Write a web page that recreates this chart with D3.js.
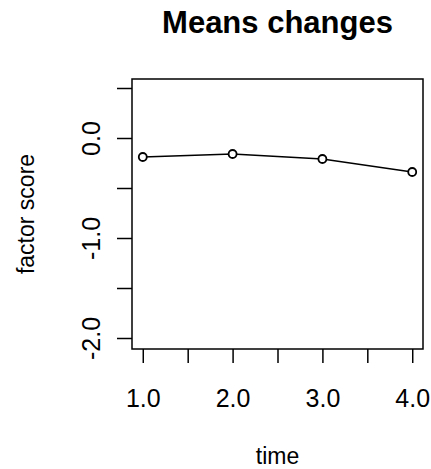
<!DOCTYPE html>
<html>
<head>
<meta charset="utf-8">
<script src="https://cdn.jsdelivr.net/npm/d3@7"></script>
<style>
  body { margin: 0; background: #fff; }
  svg { display: block; font-family: "Liberation Sans", Arial, sans-serif; }
</style>
</head>
<body>
<svg width="431" height="469"></svg>
<script>
// data
let times = [1, 2, 3, 4];
let means = [-0.19, -0.16, -0.21, -0.34];
let xTicks = [1, 1.5, 2, 2.5, 3, 3.5, 4];
let xLabels = [1, 2, 3, 4];
let yTicks = [0.5, 0, -0.5, -1, -1.5, -2];
let yLabels = [0, -1, -2];

let svg = d3.select('svg');

// plot box
let boxL = 132, boxR = 423, boxT = 79, boxB = 349;

let x = d3.scaleLinear().domain([0.88, 4.12]).range([boxL, boxR]);
let y = d3.scaleLinear().domain([-2.11, 0.59]).range([boxB, boxT]);

// R prints a plain hyphen, not the unicode minus d3.format gives
let fmt = d => d.toFixed(1);

// x axis
let xAxis = svg.append('g')
  .attr('transform', `translate(0,${boxB})`)
  .call(d3.axisBottom(x)
    .tickValues(xTicks)
    .tickSize(14)
    .tickFormat(d => xLabels.includes(d) ? fmt(d) : ''));
xAxis.select('.domain').remove();
xAxis.selectAll('line').attr('stroke', '#000').attr('stroke-width', 1.5);
xAxis.selectAll('text')
  .attr('font-size', 25)
  .attr('font-family', '"Liberation Sans", Arial, sans-serif')
  .attr('fill', '#000')
  .attr('dy', null)
  .attr('y', 58);

// y axis, labels rotated like R's default
let yAxis = svg.append('g')
  .attr('transform', `translate(${boxL},0)`)
  .call(d3.axisLeft(y)
    .tickValues(yTicks)
    .tickSize(15)
    .tickFormat(d => yLabels.includes(d) ? fmt(d) : ''));
yAxis.select('.domain').remove();
yAxis.selectAll('line').attr('stroke', '#000').attr('stroke-width', 1.5);
yAxis.selectAll('text')
  .attr('font-size', 25)
  .attr('font-family', '"Liberation Sans", Arial, sans-serif')
  .attr('fill', '#000')
  .attr('x', null)
  .attr('dy', null)
  .attr('text-anchor', 'middle')
  .attr('transform', 'translate(-32,0) rotate(-90)');

// box
svg.append('rect')
  .attr('x', boxL).attr('y', boxT)
  .attr('width', boxR - boxL).attr('height', boxB - boxT)
  .attr('fill', 'none')
  .attr('stroke', '#000')
  .attr('stroke-width', 1.5);

// line + points
let pts = times.map((t, i) => [t, means[i]]);

svg.append('path')
  .datum(pts)
  .attr('fill', 'none')
  .attr('stroke', '#000')
  .attr('stroke-width', 1.6)
  .attr('d', d3.line().x(d => x(d[0])).y(d => y(d[1])));

svg.selectAll('circle')
  .data(pts)
  .join('circle')
  .attr('cx', d => x(d[0]))
  .attr('cy', d => y(d[1]))
  .attr('r', 4)
  .attr('fill', '#fff')
  .attr('stroke', '#000')
  .attr('stroke-width', 1.8);

// titles
svg.append('text')
  .attr('x', (boxL + boxR) / 2)
  .attr('y', 33)
  .attr('text-anchor', 'middle')
  .attr('font-size', 31)
  .attr('font-weight', 'bold')
  .text('Means changes');

svg.append('text')
  .attr('x', (boxL + boxR) / 2)
  .attr('y', 464)
  .attr('text-anchor', 'middle')
  .attr('font-size', 23)
  .text('time');

svg.append('text')
  .attr('transform', `translate(34,${(boxT + boxB) / 2}) rotate(-90)`)
  .attr('text-anchor', 'middle')
  .attr('font-size', 23)
  .text('factor score');
</script>
</body>
</html>
